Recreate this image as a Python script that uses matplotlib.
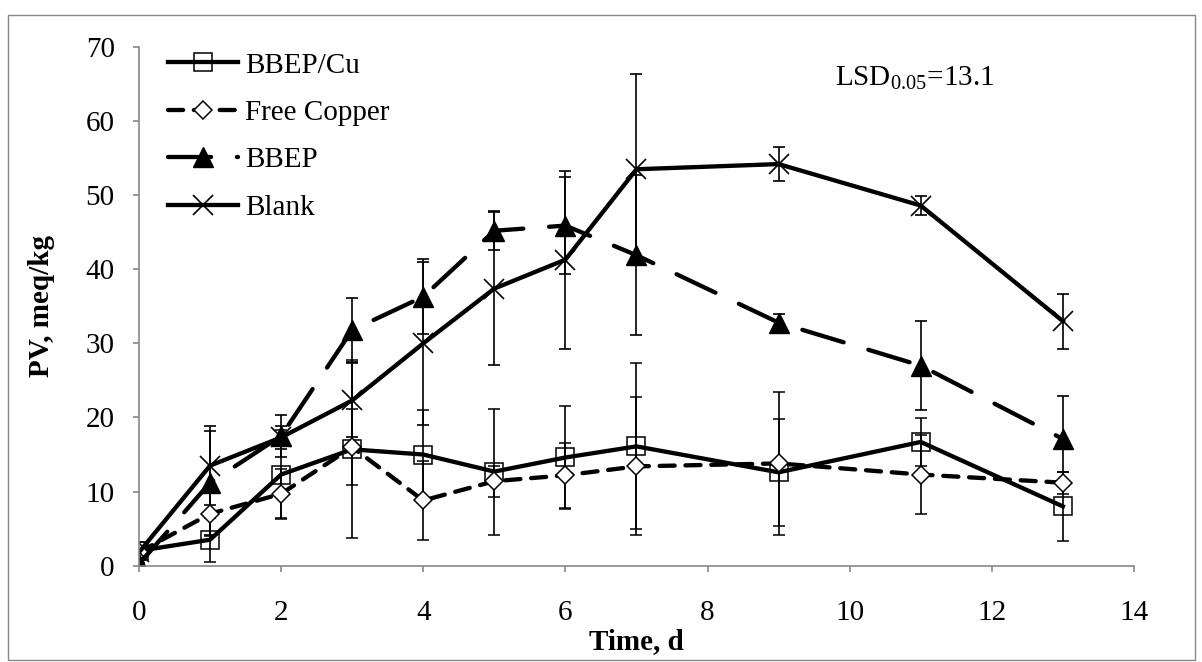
import matplotlib
matplotlib.use("Agg")
import matplotlib.pyplot as plt
from matplotlib.patches import Rectangle
from matplotlib.lines import Line2D

plt.rcParams['font.family'] = ['Liberation Serif', 'DejaVu Serif']
plt.rcParams['mathtext.fontset'] = 'custom'
plt.rcParams['mathtext.rm'] = 'Liberation Serif'
plt.rcParams['mathtext.it'] = 'Liberation Serif:italic'
plt.rcParams['font.size'] = 21

days = [0, 1, 2, 3, 4, 5, 6, 7, 9, 11, 13]

bbep_cu = [2.0, 3.5, 12.3, 15.7, 15.0, 12.7, 14.6, 16.1, 12.6, 16.7, 8.0]
bbep_cu_err = [1.2, 3.0, 6.0, 12.0, 6.0, 8.5, 6.9, 11.2, 7.2, 3.2, 4.7]

free_cu = [1.8, 7.0, 9.7, 16.0, 8.8, 11.4, 12.2, 13.4, 13.8, 12.3, 11.2]
free_cu_err = [0.5, 3.0, 3.3, 5.1, 5.3, 2.1, 4.4, 9.3, 9.7, 5.3, 1.5]

bbep = [0.2, 11.2, 17.5, 31.8, 36.3, 45.2, 45.9, 41.9, 32.8, 27.0, 17.1]
bbep_err = [0.2, 7.0, 2.9, 4.3, 5.1, 2.6, 6.6, 10.8, 1.2, 6.0, 5.8]

blank = [1.8, 13.5, 17.3, 22.3, 30.0, 37.4, 41.3, 53.5, 54.2, 48.6, 33.0]
blank_err = [0.3, 5.3, 1.5, 5.0, 11.0, 10.3, 12.0, 12.9, 2.3, 1.3, 3.7]

fig = plt.figure(figsize=(12.02, 6.62), dpi=100)
fig.patches.append(Rectangle((0.007, 0.003), 0.987, 0.974, transform=fig.transFigure,
                             fill=False, edgecolor='#888888', lw=1.0))
ax = fig.add_axes([0.1156, 0.1455, 0.8278, 0.7835])

eb = dict(ecolor='k', elinewidth=1.2, capsize=4.5, capthick=1.2)

styles = [
    dict(marker='s', ms=13, mfc='none', mec='k', mew=1.1, ls='-'),
    dict(marker='D', ms=9, mfc='white', mec='k', mew=1.1, ls=(0, (3.5, 2.5)), dash_capstyle='round'),
    dict(marker='^', ms=14, mfc='k', mec='k', ls=(0, (10, 6)), dash_capstyle='round'),
    dict(marker='x', ms=14, mec='k', mew=1.2, ls='-'),
]
series = [bbep_cu, free_cu, bbep, blank]
errs = [bbep_cu_err, free_cu_err, bbep_err, blank_err]
names = ['BBEP/Cu', 'Free Copper', 'BBEP', 'Blank']

handles = []
for y, e, st, name in zip(series, errs, styles, names):
    ax.errorbar(days, y, yerr=e, color='k', lw=3.1, **st, **eb)
    handles.append(Line2D([], [], color='k', lw=3.1, label=name, **st))

ax.set_xlim(0, 14)
ax.set_ylim(0, 70)
ax.set_xticks(range(0, 15, 2))
ax.set_yticks(range(0, 71, 10))
for s in ['top', 'right']:
    ax.spines[s].set_visible(False)
for s in ['left', 'bottom']:
    ax.spines[s].set_color('#888888')
    ax.spines[s].set_linewidth(1.2)
ax.tick_params(axis='both', direction='out', length=4.5, width=1.2, color='#888888')
ax.tick_params(axis='y', pad=13)
ax.tick_params(axis='x', pad=20)

ax.set_xlabel('Time, d', fontweight='bold', labelpad=2)
ax.set_ylabel('PV, meq/kg', fontweight='bold', labelpad=22)

ax.text(9.79, 65.8, 'LSD$_{\\mathregular{0.05}}$=13.1', va='center', ha='left')

ax.legend(handles=handles, loc='upper left', bbox_to_anchor=(0.029, 0.99), frameon=False,
          borderpad=0, borderaxespad=0, handlelength=2.4, handletextpad=0.25, labelspacing=0.72)

fig.savefig('out.png', dpi=100)
